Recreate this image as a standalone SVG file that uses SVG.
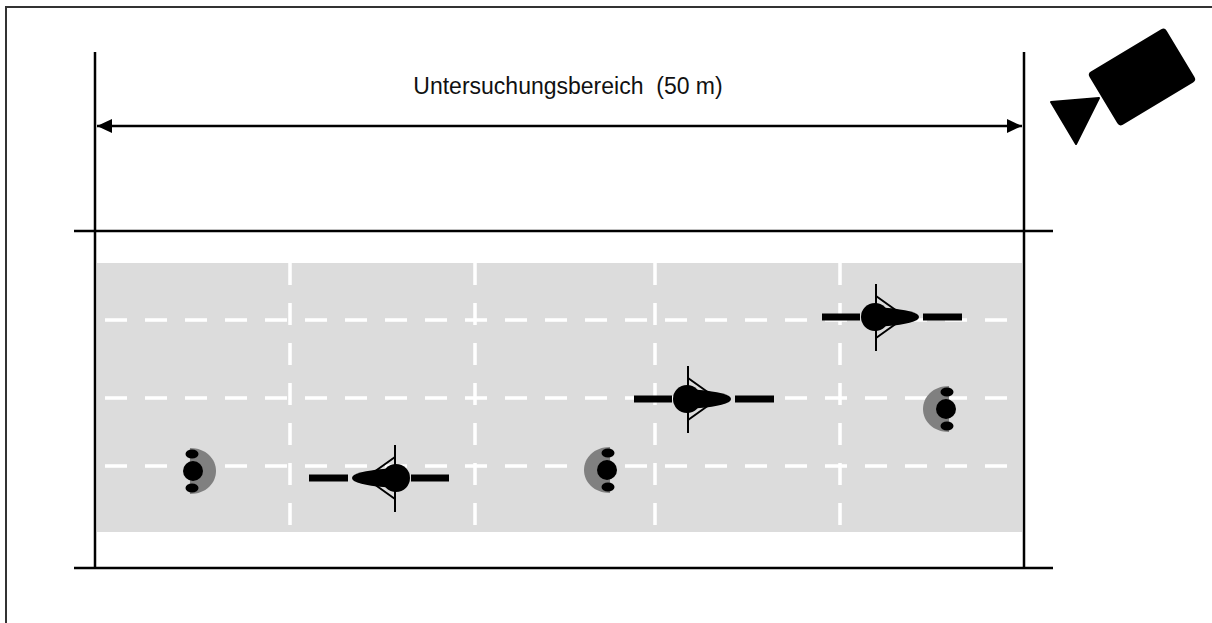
<svg xmlns="http://www.w3.org/2000/svg" width="1212" height="623" viewBox="0 0 1212 623">
  <style>
    .ln { stroke: #000; stroke-width: 2.5; fill: none; }
    .dash { stroke: #fff; stroke-width: 3.5; stroke-dasharray: 22 18; fill: none; }
    .bar { stroke: #000; stroke-width: 7; }
    .thin { stroke: #000; stroke-width: 2; fill: none; }
    .label { font-family: "Liberation Sans", Arial, sans-serif; font-size: 23px; fill: #111; }
  </style>
  <defs>
    <marker id="ah" viewBox="0 0 15 14" refX="15" refY="7" markerWidth="15" markerHeight="14" markerUnits="userSpaceOnUse" orient="auto-start-reverse">
      <path d="M0,0 L15,7 L0,14 Z" fill="#000"/>
    </marker>
    <!-- cyclist seen from above, riding to the right, head at origin -->
    <g id="bike">
      <line class="bar" x1="-53" y1="0" x2="-15" y2="0"/>
      <line class="bar" x1="48" y1="0" x2="87" y2="0"/>
      <path d="M0,-10 C18,-9 34,-7 42,-3 Q46,0 42,3 C34,7 18,9 0,10 Z" fill="#000"/>
      <circle cx="0" cy="0" r="14" fill="#000"/>
      <line class="thin" x1="1" y1="-33" x2="1" y2="34"/>
      <path class="thin" d="M1,-21 L22,-6 M1,21 L22,6"/>
    </g>
    <!-- pedestrian seen from above, walking to the right, head at origin -->
    <g id="ped">
      <path d="M3,-23 C-13,-23 -23,-12 -23,0 C-23,12 -13,23 3,23 Z" fill="#808080"/>
      <ellipse cx="1" cy="-17" rx="6.5" ry="4.5" fill="#000"/>
      <ellipse cx="1" cy="17" rx="6.5" ry="4.5" fill="#000"/>
      <circle cx="0" cy="0" r="10" fill="#000"/>
    </g>
  </defs>

  <!-- frame -->
  <rect x="6" y="7" width="1220" height="630" fill="#fff" stroke="#333" stroke-width="2"/>

  <!-- road surface -->
  <g id="road">
    <rect x="97" y="263" width="925" height="269" fill="#dcdcdc"/>
    <line class="dash" x1="105" y1="320" x2="1022" y2="320"/>
    <line class="dash" x1="105" y1="398" x2="1022" y2="398"/>
    <line class="dash" x1="105" y1="466" x2="1022" y2="466"/>
    <line class="dash" x1="290" y1="263" x2="290" y2="532"/>
    <line class="dash" x1="475" y1="263" x2="475" y2="532"/>
    <line class="dash" x1="655" y1="263" x2="655" y2="532"/>
    <line class="dash" x1="840" y1="263" x2="840" y2="532"/>
  </g>

  <g id="connectors">
    <line class="ln" x1="95" y1="52" x2="95" y2="568"/>
    <line class="ln" x1="1024" y1="52" x2="1024" y2="568"/>
    <line class="ln" x1="74" y1="231" x2="1053" y2="231"/>
    <line class="ln" x1="74" y1="568" x2="1053" y2="568"/>
    <line class="ln" x1="97" y1="126" x2="1022" y2="126" marker-start="url(#ah)" marker-end="url(#ah)"/>
  </g>

  <g id="title">
    <text class="label" x="568" y="94" text-anchor="middle" xml:space="preserve">Untersuchungsbereich  (50 m)</text>
  </g>

  <g id="cyclist1"><use href="#bike" transform="translate(396,478) scale(-1,1)"/></g>
  <g id="cyclist2"><use href="#bike" transform="translate(687,399)"/></g>
  <g id="cyclist3"><use href="#bike" transform="translate(875,317)"/></g>

  <g id="pedestrian1"><use href="#ped" transform="translate(193,471) scale(-1,1)"/></g>
  <g id="pedestrian2"><use href="#ped" transform="translate(607,470)"/></g>
  <g id="pedestrian3"><use href="#ped" transform="translate(946,409)"/></g>

  <g id="camera">
    <rect x="-45" y="-31" width="90" height="62" rx="4" fill="#000" transform="translate(1142,77) rotate(-31)"/>
    <path d="M1051,102 L1099,98 L1076,144 Z" fill="#000" stroke="#000" stroke-width="2" stroke-linejoin="round"/>
  </g>
</svg>
